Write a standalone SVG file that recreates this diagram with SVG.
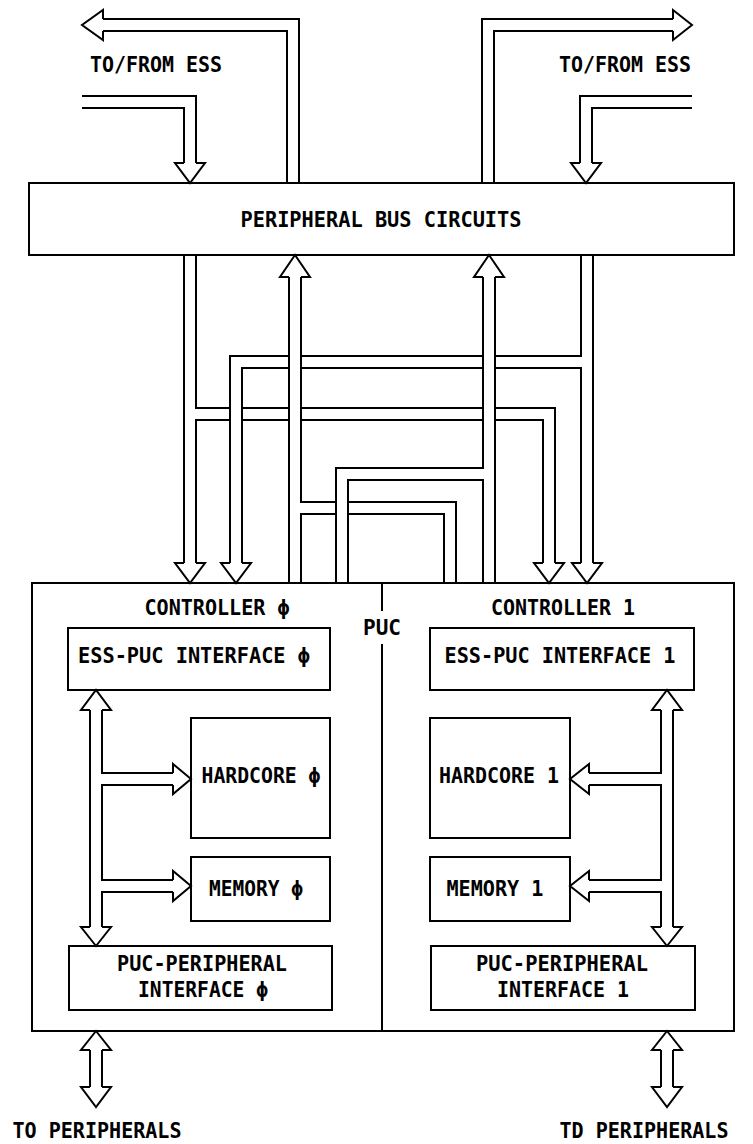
<svg xmlns="http://www.w3.org/2000/svg" xmlns:xlink="http://www.w3.org/1999/xlink" width="753" height="1144" viewBox="0 0 753 1144">
<style>
.bk{stroke:#000;stroke-width:14;fill:none;stroke-linejoin:miter;stroke-linecap:butt}
.wh{stroke:#fff;stroke-width:10;fill:none;stroke-linejoin:miter;stroke-linecap:butt}
.ah{fill:#fff;stroke:#000;stroke-width:2;stroke-linejoin:miter}
.box{fill:none;stroke:#000;stroke-width:2}
.ln{fill:none;stroke:#000;stroke-width:2}
text{font-family:"DejaVu Sans Mono","Liberation Mono",monospace;font-weight:bold;font-size:21px;fill:#000;text-anchor:middle}
</style>
<defs>
<path id="pOutL" d="M293 183 V25 H103"/>
<path id="pInL" d="M82 102 H190 V163"/>
<path id="pOutR" d="M488 183 V25 H673"/>
<path id="pInR" d="M692 102 H586 V163"/>
<path id="pC" d="M190 255 V563 M190 414 H549 V563"/>
<path id="pD" d="M587 255 V563 M587 362 H236 V563"/>
<path id="pA" d="M295 583 V277 M295 508 H450 V583"/>
<path id="pB" d="M489 583 V277 M489 474 H342 V583"/>
<path id="pL" d="M96 710 V927 M96 779 H173 M96 886 H173"/>
<path id="pR" d="M667 710 V927 M667 779 H589 M667 886 H589"/>
<path id="pBL" d="M96 1050 V1087"/>
<path id="pBR" d="M667 1050 V1087"/>
</defs>
<rect x="0" y="0" width="753" height="1144" fill="#fff"/>
<g id="connectors">
<use xlink:href="#pOutL" class="bk"/><use xlink:href="#pOutL" class="wh"/>
<use xlink:href="#pInL" class="bk"/><use xlink:href="#pInL" class="wh"/>
<use xlink:href="#pOutR" class="bk"/><use xlink:href="#pOutR" class="wh"/>
<use xlink:href="#pInR" class="bk"/><use xlink:href="#pInR" class="wh"/>
<use xlink:href="#pC" class="bk"/><use xlink:href="#pC" class="wh"/>
<use xlink:href="#pD" class="bk"/><use xlink:href="#pD" class="wh"/>
<use xlink:href="#pA" class="bk"/><use xlink:href="#pA" class="wh"/>
<use xlink:href="#pB" class="bk"/><use xlink:href="#pB" class="wh"/>
<use xlink:href="#pL" class="bk"/><use xlink:href="#pL" class="wh"/>
<use xlink:href="#pR" class="bk"/><use xlink:href="#pR" class="wh"/>
<use xlink:href="#pBL" class="bk"/><use xlink:href="#pBL" class="wh"/>
<use xlink:href="#pBR" class="bk"/><use xlink:href="#pBR" class="wh"/>
<polyline class="ah" points="103,19 103,10 82,25 103,40 103,31"/>
<polyline class="ah" points="673,19 673,10 692,25 673,40 673,31"/>
<polyline class="ah" points="184,163 175,163 190,183 205,163 196,163"/>
<polyline class="ah" points="580,163 571,163 586,183 601,163 592,163"/>
<polyline class="ah" points="289,277 280,277 295,255 310,277 301,277"/>
<polyline class="ah" points="483,277 474,277 489,255 504,277 495,277"/>
<polyline class="ah" points="184,563 175,563 190,583 205,563 196,563"/>
<polyline class="ah" points="230,563 221,563 236,583 251,563 242,563"/>
<polyline class="ah" points="543,563 534,563 549,583 564,563 555,563"/>
<polyline class="ah" points="581,563 572,563 587,583 602,563 593,563"/>
<polyline class="ah" points="90,710 81,710 96,690 111,710 102,710"/>
<polyline class="ah" points="90,927 81,927 96,946 111,927 102,927"/>
<polyline class="ah" points="173,773 173,764 191,779 173,794 173,785"/>
<polyline class="ah" points="173,880 173,871 191,886 173,901 173,892"/>
<polyline class="ah" points="661,710 652,710 667,690 682,710 673,710"/>
<polyline class="ah" points="661,927 652,927 667,946 682,927 673,927"/>
<polyline class="ah" points="589,773 589,764 570,779 589,794 589,785"/>
<polyline class="ah" points="589,880 589,871 570,886 589,901 589,892"/>
<polyline class="ah" points="90,1050 81,1050 96,1031 111,1050 102,1050"/>
<polyline class="ah" points="90,1087 81,1087 96,1107 111,1087 102,1087"/>
<polyline class="ah" points="661,1050 652,1050 667,1031 682,1050 673,1050"/>
<polyline class="ah" points="661,1087 652,1087 667,1107 682,1087 673,1087"/>
</g>
<g id="labels-ess">
<text x="156" y="72" textLength="132" lengthAdjust="spacingAndGlyphs">TO/FROM ESS</text>
<text x="625" y="72" textLength="132" lengthAdjust="spacingAndGlyphs">TO/FROM ESS</text>
</g>
<g id="pbc">
<rect class="box" x="29" y="183" width="705" height="72"/>
<text x="381" y="227" textLength="281" lengthAdjust="spacingAndGlyphs">PERIPHERAL BUS CIRCUITS</text>
</g>
<g id="puc">
<rect class="box" x="32" y="583" width="702" height="448"/>
<line class="ln" x1="382" y1="583" x2="382" y2="611"/>
<line class="ln" x1="382" y1="644" x2="382" y2="1031"/>
<text x="382" y="635" textLength="38" lengthAdjust="spacingAndGlyphs">PUC</text>
</g>
<g id="controller0">
<text x="217" y="615" textLength="145" lengthAdjust="spacingAndGlyphs">CONTROLLER ϕ</text>
</g>
<g id="controller1">
<text x="563" y="615" textLength="144" lengthAdjust="spacingAndGlyphs">CONTROLLER 1</text>
</g>
<g id="esspuc0">
<rect class="box" x="68" y="628" width="262" height="62"/>
<text x="194" y="663" textLength="232" lengthAdjust="spacingAndGlyphs">ESS-PUC INTERFACE ϕ</text>
</g>
<g id="esspuc1">
<rect class="box" x="430" y="628" width="264" height="62"/>
<text x="560" y="663" textLength="231" lengthAdjust="spacingAndGlyphs">ESS-PUC INTERFACE 1</text>
</g>
<g id="hardcore0">
<rect class="box" x="191" y="718" width="139" height="120"/>
<text x="261" y="783" textLength="119" lengthAdjust="spacingAndGlyphs">HARDCORE ϕ</text>
</g>
<g id="hardcore1">
<rect class="box" x="430" y="718" width="140" height="120"/>
<text x="499" y="783" textLength="120" lengthAdjust="spacingAndGlyphs">HARDCORE 1</text>
</g>
<g id="memory0">
<rect class="box" x="191" y="857" width="139" height="64"/>
<text x="256" y="896" textLength="94" lengthAdjust="spacingAndGlyphs">MEMORY ϕ</text>
</g>
<g id="memory1">
<rect class="box" x="430" y="857" width="140" height="64"/>
<text x="495" y="896" textLength="97" lengthAdjust="spacingAndGlyphs">MEMORY 1</text>
</g>
<g id="pucper0">
<rect class="box" x="69" y="946" width="263" height="64"/>
<text x="202" y="971" textLength="170" lengthAdjust="spacingAndGlyphs">PUC-PERIPHERAL</text>
<text x="203" y="997" textLength="130" lengthAdjust="spacingAndGlyphs">INTERFACE ϕ</text>
</g>
<g id="pucper1">
<rect class="box" x="431" y="946" width="264" height="64"/>
<text x="562" y="971" textLength="172" lengthAdjust="spacingAndGlyphs">PUC-PERIPHERAL</text>
<text x="563" y="997" textLength="132" lengthAdjust="spacingAndGlyphs">INTERFACE 1</text>
</g>
<g id="labels-periph">
<text x="97" y="1138" textLength="169" lengthAdjust="spacingAndGlyphs">TO PERIPHERALS</text>
<text x="644" y="1138" textLength="169" lengthAdjust="spacingAndGlyphs">TD PERIPHERALS</text>
</g>
</svg>
